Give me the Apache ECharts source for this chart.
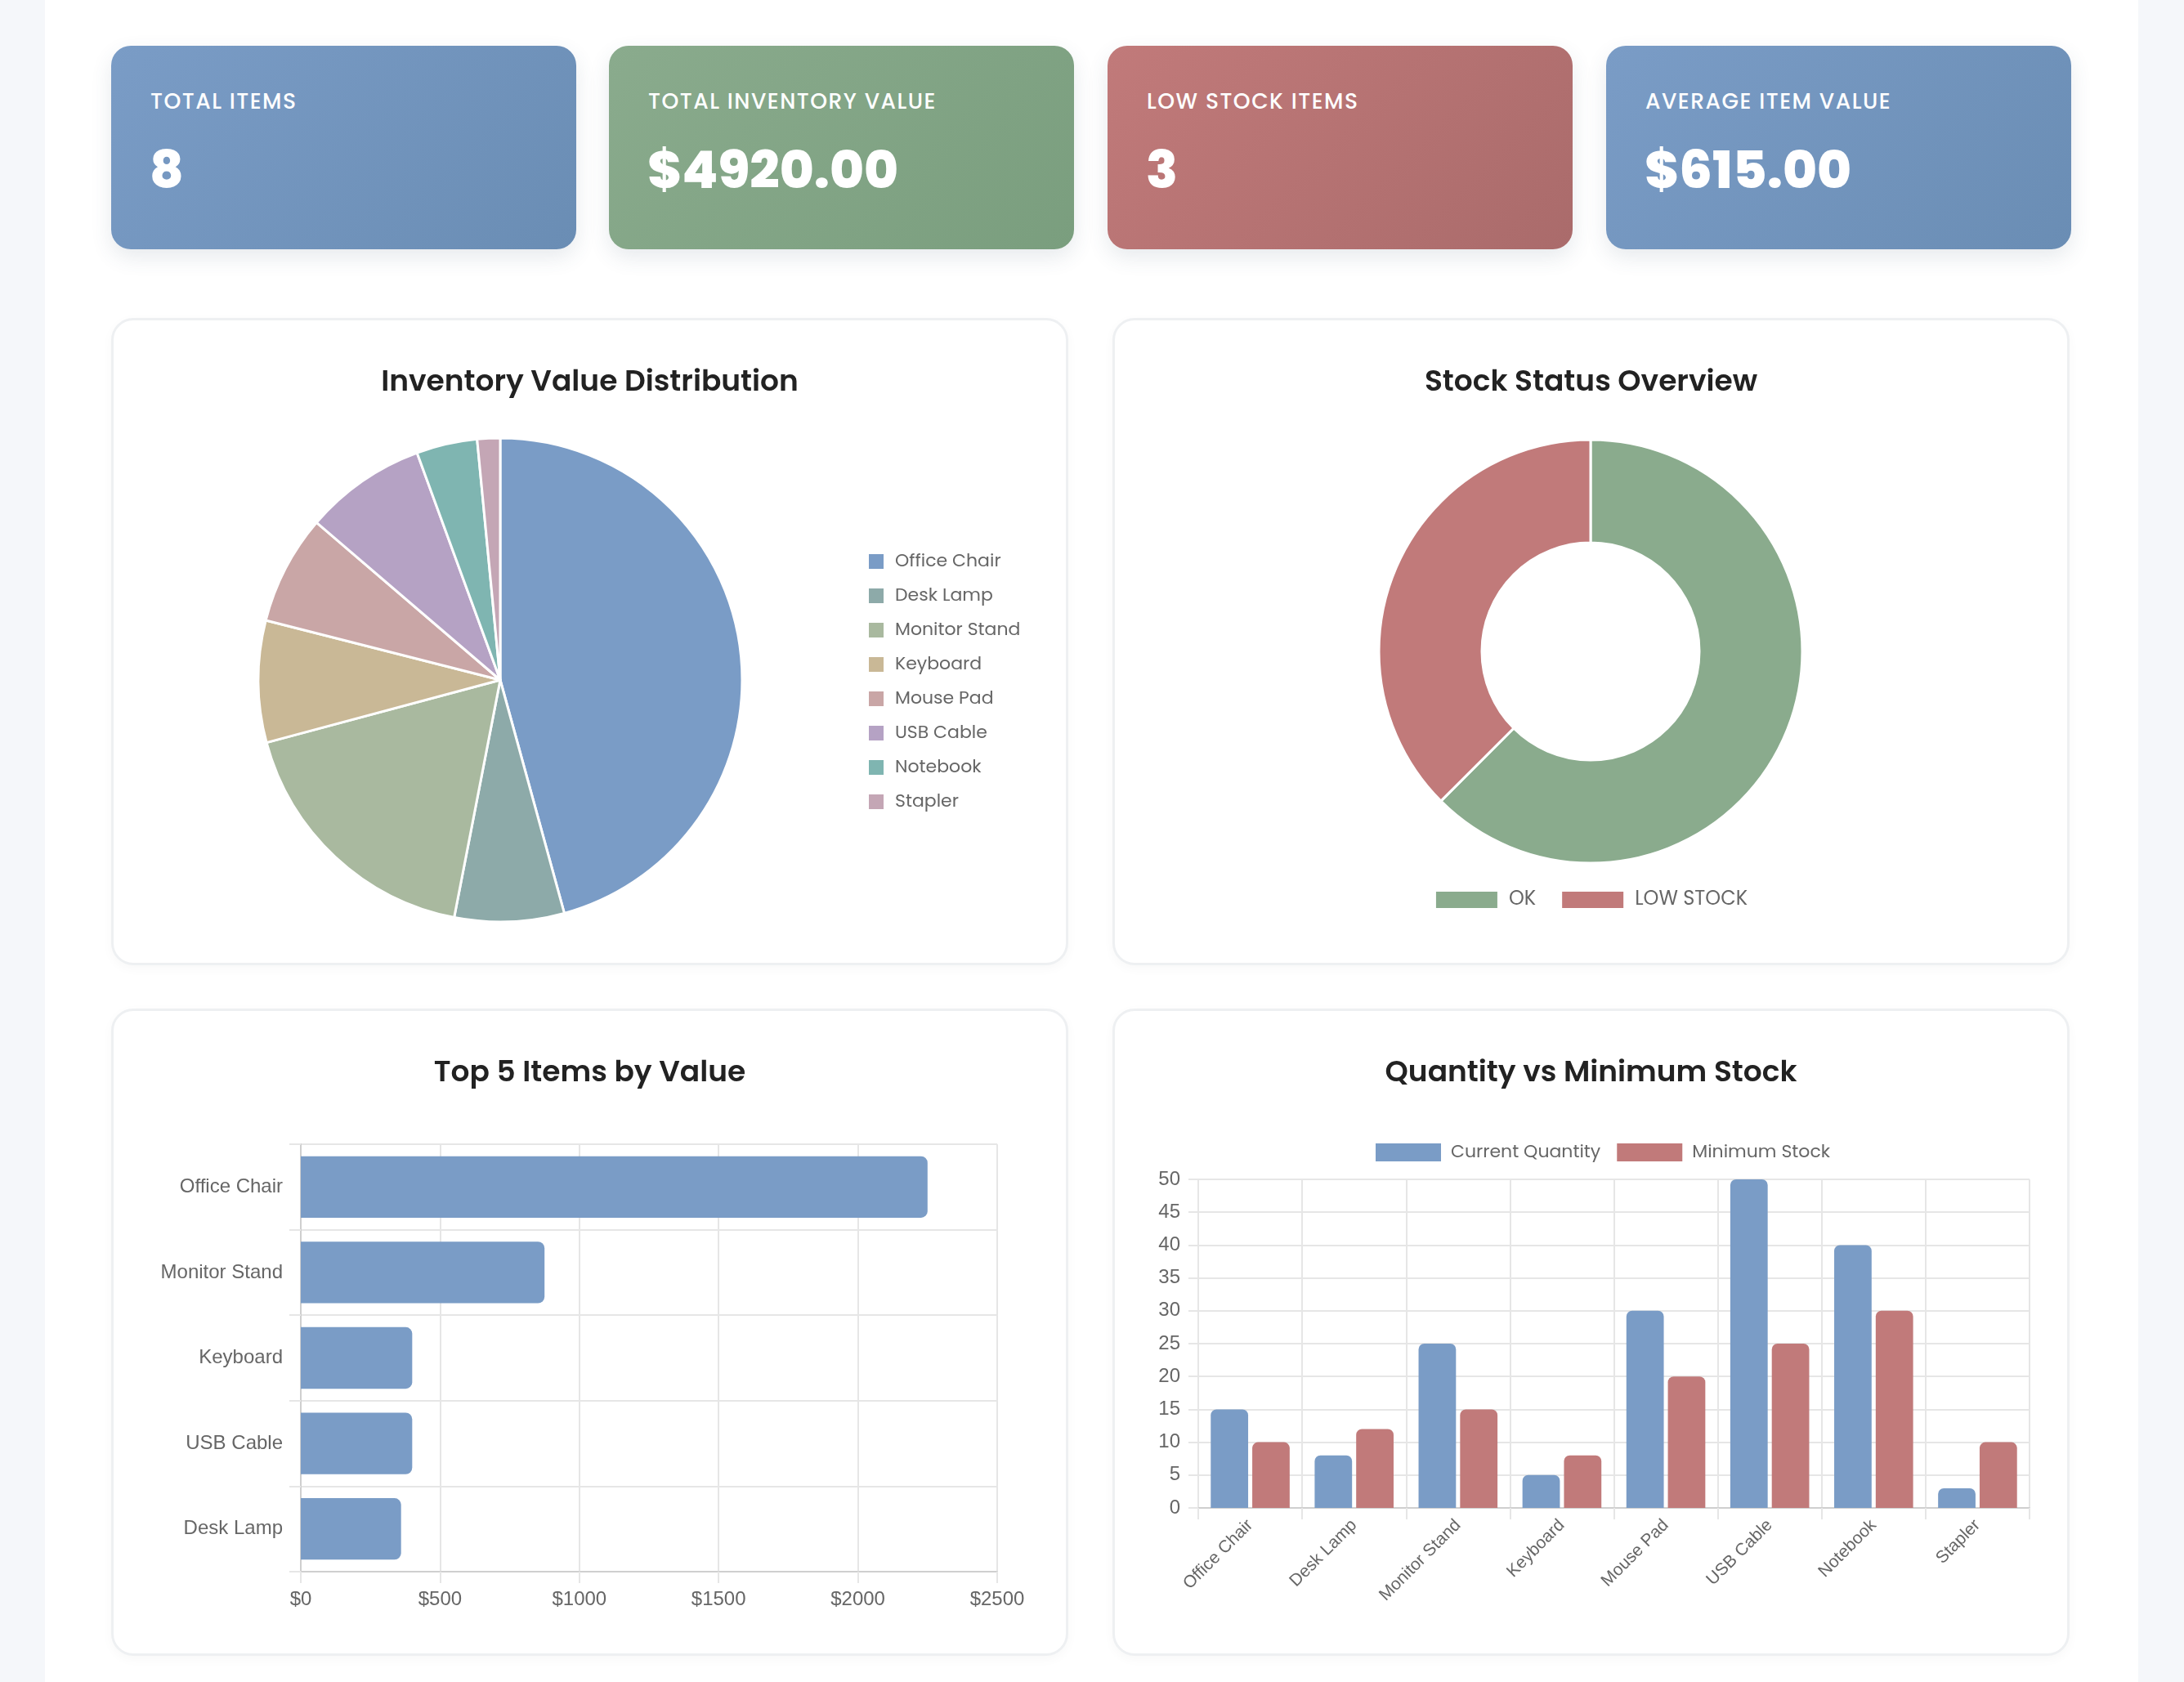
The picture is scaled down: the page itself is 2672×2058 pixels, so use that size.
<!DOCTYPE html>
<html lang="en">
<head>
<meta charset="UTF-8">
<title>Inventory Dashboard</title>
<script src="https://cdn.jsdelivr.net/npm/echarts@6/dist/echarts.min.js"></script>
<style>
    body, html {margin:0; padding:0; width:100%; height:100%; background:#f5f7fa; font-family:"Poppins","Inter","Noto Sans",sans-serif;}
    #page {position:absolute; left:55px; top:0; width:2561px; height:2058px; background:#fff;}
    .stat {position:absolute; top:56px; width:569px; height:249px; border-radius:24px; color:#fff;
        box-shadow:0 10px 26px rgba(60,80,110,0.12); box-sizing:border-box;}
    .stat .label {position:absolute; top:51px; left:48px; font-size:26.5px; font-weight:500; letter-spacing:1.5px; line-height:34px;}
    .stat .value {position:absolute; top:110px; left:47px; font-size:64px; font-weight:800; line-height:84px;}
    .blue {background:linear-gradient(135deg,#7a9cc6,#6a8db4);}
    .green {background:linear-gradient(135deg,#8aab8d,#7a9e7e);}
    .red {background:linear-gradient(135deg,#c17a7a,#aa6b6b);}
    .panel {position:absolute; width:1171px; height:792px; border:3px solid #eef0f2; border-radius:27px;
        box-sizing:border-box; background:#fff; box-shadow:0 4px 14px rgba(0,0,0,0.03);}
    .panel h3 {position:absolute; left:0; right:0; top:50px; margin:0; text-align:center; font-size:36px;
        font-weight:600; color:#222; line-height:48px; z-index:2;}
    .chart {position:absolute; left:0; top:0; width:1165px; height:786px;}
</style>
</head>
<body>
<div id="page">
    <div class="stat blue" style="left:81px;"><div class="label">TOTAL ITEMS</div><div class="value" id="vItems"></div></div>
    <div class="stat green" style="left:690px;"><div class="label">TOTAL INVENTORY VALUE</div><div class="value" id="vTotal"></div></div>
    <div class="stat red" style="left:1300px;"><div class="label">LOW STOCK ITEMS</div><div class="value" id="vLow"></div></div>
    <div class="stat blue" style="left:1910px;"><div class="label">AVERAGE ITEM VALUE</div><div class="value" id="vAvg"></div></div>

    <div class="panel" style="left:81px; top:389px;"><h3>Inventory Value Distribution</h3><div class="chart" id="pie"></div></div>
    <div class="panel" style="left:1306px; top:389px;"><h3>Stock Status Overview</h3><div class="chart" id="donut"></div></div>
    <div class="panel" style="left:81px; top:1234px;"><h3>Top 5 Items by Value</h3><div class="chart" id="top5"></div></div>
    <div class="panel" style="left:1306px; top:1234px;"><h3>Quantity vs Minimum Stock</h3><div class="chart" id="qty"></div></div>
</div>

<script type="text/javascript">
    // data
    var items = ['Office Chair', 'Desk Lamp', 'Monitor Stand', 'Keyboard', 'Mouse Pad', 'USB Cable', 'Notebook', 'Stapler'];
    var itemValues = [2250, 360, 875, 400, 360, 400, 200, 75];
    var quantities = [15, 8, 25, 5, 30, 50, 40, 3];
    var minStock = [10, 12, 15, 8, 20, 25, 30, 10];
    var statusNames = ['OK', 'LOW STOCK'];
    var top5Names = ['Office Chair', 'Monitor Stand', 'Keyboard', 'USB Cable', 'Desk Lamp'];
    var pieColors = ['#7a9cc6', '#8daaa9', '#a9b99f', '#c9b896', '#c9a6a6', '#b5a2c4', '#7fb5b1', '#c4a6b5'];
    var valueTicks = ['$0', '$500', '$1000', '$1500', '$2000', '$2500'];

    function $(id){
        return document.getElementById(id);
    }

    var total = 0, low = 0;
    for (var i = 0; i < items.length; i++) {
        total += itemValues[i];
        if (quantities[i] < minStock[i]) low++;
    }
    $('vItems').innerHTML = items.length;
    $('vTotal').innerHTML = '$' + total.toFixed(2);
    $('vLow').innerHTML = low;
    $('vAvg').innerHTML = '$' + (total / items.length).toFixed(2);

    var legendFont = {fontFamily: 'Poppins, Inter, sans-serif', fontSize: 22, color: '#666'};
    var axisFont = {fontFamily: '"Liberation Sans", Arial, sans-serif', fontSize: 24, color: '#666'};
    var gridLine = {lineStyle: {color: '#e6e6e6', width: 2}};

    // pie
    var pieChart = echarts.init($('pie'));
    pieChart.setOption({
        animation: false,
        color: pieColors,
        legend: {
            orient: 'vertical', left: 917, top: 279,
            itemWidth: 20, itemHeight: 20, itemGap: 20,
            icon: 'rect',
            textStyle: Object.assign({padding: [0, 0, 0, 8], lineHeight: 22}, legendFont),
            data: items
        },
        series: [{
            type: 'pie',
            center: [473, 440],
            radius: 296,
            startAngle: 90,
            label: {show: false},
            labelLine: {show: false},
            itemStyle: {borderColor: '#fff', borderWidth: 3},
            data: items.map(function(n, i){ return {name: n, value: itemValues[i]}; })
        }]
    });

    // donut
    var donutChart = echarts.init($('donut'));
    donutChart.setOption({
        animation: false,
        color: ['#8aab8d', '#c17a7a'],
        legend: {
            left: 'center', top: 692,
            itemWidth: 77, itemHeight: 22, itemGap: 30,
            icon: 'rect',
            textStyle: Object.assign({padding: [0, 0, 0, 8]}, legendFont, {fontSize: 24}),
            data: statusNames
        },
        series: [{
            type: 'pie',
            center: [582, 405],
            radius: [133, 259],
            startAngle: 90,
            label: {show: false},
            labelLine: {show: false},
            itemStyle: {borderColor: '#fff', borderWidth: 3},
            data: [
                {name: statusNames[0], value: items.length - low},
                {name: statusNames[1], value: low}
            ]
        }]
    });

    // top 5 by value
    var top5Values = top5Names.map(function(n){ return itemValues[items.indexOf(n)]; });

    var topChart = echarts.init($('top5'));
    topChart.setOption({
        animation: false,
        grid: {left: 229, top: 163, width: 852, height: 523, outerBoundsMode: 'none'},
        xAxis: {
            type: 'value', min: 0, max: 2500, interval: 500,
            axisLabel: Object.assign({margin: 22, formatter: function(v){ return valueTicks[v / 500]; }}, axisFont),
            axisLine: {show: true, lineStyle: {color: '#cfcfcf', width: 2}},
            axisTick: {show: true, length: 14, lineStyle: {color: '#e6e6e6', width: 2}},
            splitLine: gridLine
        },
        yAxis: {
            type: 'category', inverse: true, data: top5Names,
            axisLabel: Object.assign({margin: 22}, axisFont),
            axisLine: {show: true, lineStyle: {color: '#cfcfcf', width: 2}},
            axisTick: {show: true, length: 14, lineStyle: {color: '#e6e6e6', width: 2}},
            splitLine: {show: true, lineStyle: {color: '#e6e6e6', width: 2}}
        },
        series: [{
            type: 'bar',
            data: top5Values,
            barCategoryGap: '28%',
            itemStyle: {color: '#7a9cc6', borderRadius: [0, 8, 8, 0]}
        }]
    });

    // quantity vs minimum
    var qtyChart = echarts.init($('qty'));
    qtyChart.setOption({
        animation: false,
        color: ['#7a9cc6', '#c17a7a'],
        legend: {
            left: 314, top: 157,
            itemWidth: 80, itemHeight: 22, itemGap: 20,
            icon: 'rect',
            textStyle: Object.assign({padding: [0, 0, 0, 7]}, legendFont, {fontSize: 22}),
            data: ['Current Quantity', 'Minimum Stock']
        },
        grid: {left: 102, top: 206, width: 1017, height: 402, outerBoundsMode: 'none'},
        xAxis: {
            type: 'category', data: items,
            axisLabel: Object.assign({}, axisFont, {fontSize: 21, rotate: 45, margin: 18, interval: 0}),
            axisLine: {show: true, lineStyle: {color: '#cfcfcf', width: 2}},
            axisTick: {show: true, length: 14, lineStyle: {color: '#e6e6e6', width: 2}},
            splitLine: {show: true, lineStyle: {color: '#e6e6e6', width: 2}}
        },
        yAxis: {
            type: 'value', min: 0, max: 50, interval: 5,
            axisLabel: Object.assign({margin: 22}, axisFont),
            axisLine: {show: true, lineStyle: {color: '#e6e6e6', width: 2}},
            axisTick: {show: true, length: 12, lineStyle: {color: '#e6e6e6', width: 2}},
            splitLine: gridLine
        },
        series: [{
            name: 'Current Quantity', type: 'bar', data: quantities,
            barWidth: '36%', barGap: '11%',
            itemStyle: {borderRadius: [7, 7, 0, 0]}
        }, {
            name: 'Minimum Stock', type: 'bar', data: minStock,
            barWidth: '36%', barGap: '11%',
            itemStyle: {borderRadius: [7, 7, 0, 0]}
        }]
    });
</script>
</body>
</html>
